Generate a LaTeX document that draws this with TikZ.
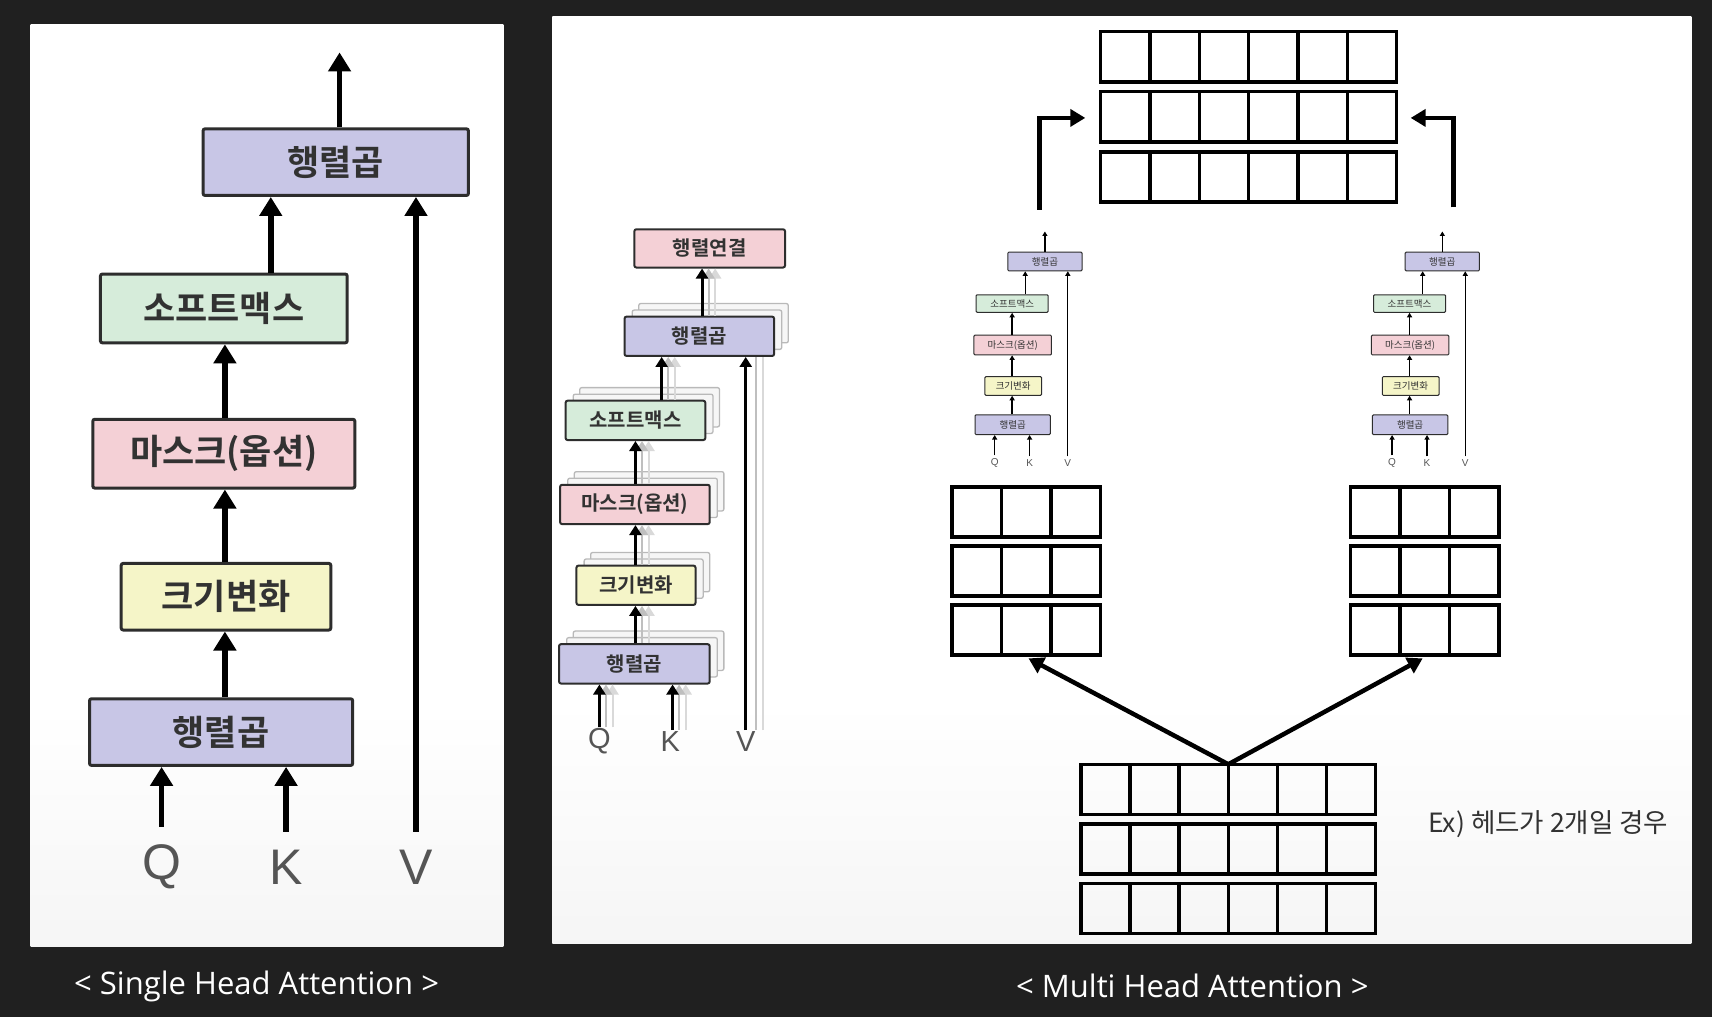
\documentclass[tikz,border=0pt]{standalone}
\usepackage{fontspec}
\setmainfont{Open Sans}
\newfontfamily\kr{Noto Sans CJK KR}[BoldFont = {Noto Sans CJK KR Bold}]
\newfontfamily\lat{Liberation Sans}
\usetikzlibrary{arrows.meta}
\definecolor{bg}{RGB}{32,32,32}
\definecolor{mm}{RGB}{200,198,230}
\definecolor{soft}{RGB}{214,236,218}
\definecolor{msk}{RGB}{244,208,214}
\definecolor{scl}{RGB}{245,245,200}
\definecolor{ink}{RGB}{45,45,45}
\definecolor{txt}{RGB}{50,50,50}
\definecolor{qkv}{RGB}{85,85,85}
\pgfdeclareverticalshading{panel}{100bp}{color(0bp)=(gray!22); color(38bp)=(white); color(100bp)=(white)}

\begin{document}
\begin{tikzpicture}[x = 1.0918pt, y = -1.0918pt,
    wh/.style 2 args = { minimum width = #1*1.0918pt, minimum height = #2*1.0918pt },
    box/.style = { draw = ink, rounded corners = 2pt, inner sep = 0pt, text = txt },
    big/.style = { box, line width = 3pt, font = \kr\bfseries\fontsize{35}{35}\selectfont },
    mid/.style = { box, line width = 2pt, font = \kr\bfseries\fontsize{20}{20}\selectfont },
    tiny/.style = { box, line width = 1pt, rounded corners = 1pt, font = \kr\fontsize{9.5}{9.5}\selectfont },
    ghost/.style = { draw = gray!55, fill = white!93!gray, line width = 1.3pt, rounded corners = 2pt, inner sep = 0pt },
    qkvL/.style = { inner sep = 1pt, text = qkv, font = \lat\fontsize{50}{50}\selectfont },
    qkvM/.style = { inner sep = 1pt, text = qkv, font = \lat\fontsize{29}{29}\selectfont },
    qkvS/.style = { inner sep = 1pt, text = qkv, font = \lat\fontsize{10}{10}\selectfont },
    bigarr/.style = { line width = 5.5pt, -{Triangle[length = 19pt, width = 22pt]} },
    midarr/.style = { line width = 3pt, -{Triangle[length = 10pt, width = 12pt]} },
    gharr/.style = { midarr, draw = gray!50, line width = 2pt },
    tinyarr/.style = { line width = 1.3pt, -{Triangle[length = 4.5pt, width = 5pt]} },
    matarr/.style = { line width = 4.5pt, -{Triangle[length = 15pt, width = 17pt]} },
    cell/.style = { draw = black, line width = 3.5pt }
  ]
  % background and panels
  \fill[bg] (0,0) rectangle (1568,931);
  \shade[shading = panel] (28,22) rectangle (461,867);
  \shade[shading = panel] (506,15) rectangle (1549,864);

  \node[text = white, font = \fontsize{31}{31}\selectfont] (capS) at (235,903) {< Single Head Attention >};
  \node[text = white, font = \fontsize{31}{31}\selectfont] (capM) at (1092,903) {< Multi Head Attention >};

  % single head
  \node[big, fill = mm, wh = {243}{61}] (Lmm2) at (307.5,148.5) {행렬곱};
  \node[big, fill = soft, wh = {226}{63}] (Lsm) at (205,282.5) {소프트맥스};
  \node[big, fill = msk, wh = {240}{63}] (Lmask) at (205,415.5) {마스크(옵션)};
  \node[big, fill = scl, wh = {192}{61}] (Lsc) at (207,546.5) {크기변화};
  \node[big, fill = mm, wh = {241}{61}] (Lmm1) at (202.5,670.5) {행렬곱};
  \node[qkvL] (Lq) at (148,794) {Q};
  \node[qkvL] (Lk) at (262,794) {K};
  \node[qkvL] (Lv) at (381,794) {V};
  \coordinate (Lout) at (311,48);

  \draw[bigarr] (Lmm2.north -| 311,0) -- (Lout);
  \draw[bigarr] (Lsm.north -| 248,0) -- (Lmm2.south -| 248,0);
  \draw[bigarr] (Lmask.north -| 206,0) -- (Lsm.south -| 206,0);
  \draw[bigarr] (Lsc.north -| 206,0) -- (Lmask.south -| 206,0);
  \draw[bigarr] (Lmm1.north -| 206,0) -- (Lsc.south -| 206,0);
  \draw[bigarr, shorten <= 17pt] (Lq.north) -- (Lq |- Lmm1.south);
  \draw[bigarr, shorten <= 17pt] (Lk.north) -- (Lk |- Lmm1.south);
  \draw[bigarr, shorten <= 17pt] (Lv.north) -- (Lv |- Lmm2.south);

  % multi head, stacked view
  \foreach \nm/\x/\y/\w/\h in {Mmm2/640.5/308/137/36, Msm/582/385/128/36, Mmask/581.5/462/137/36, Msc/582.5/536/109/36, Mmm1/581/608/138/36}
  {
    \node[ghost, wh = {\w}{\h}] (\nm-g2) at (\x+13,\y-12) {};
    \node[ghost, wh = {\w}{\h}] (\nm-g1) at (\x+7,\y-6) {};
  }
  \node[mid, fill = msk, wh = {138}{35}] (Mcat) at (650,227.5) {행렬연결};
  \node[mid, fill = mm, wh = {137}{36}] (Mmm2) at (640.5,308) {행렬곱};
  \node[mid, fill = soft, wh = {128}{36}] (Msm) at (582,385) {소프트맥스};
  \node[mid, fill = msk, wh = {137}{36}] (Mmask) at (581.5,462) {마스크(옵션)};
  \node[mid, fill = scl, wh = {109}{36}] (Msc) at (582.5,536) {크기변화};
  \node[mid, fill = mm, wh = {138}{36}] (Mmm1) at (581,608) {행렬곱};
  \node[qkvM] (Mq) at (549,679) {Q};
  \node[qkvM] (Mk) at (614,679) {K};
  \node[qkvM] (Mv) at (683,679) {V};

  \foreach \a/\b/\x in {Mmm2/Mcat/643, Msm/Mmm2/606, Mmask/Msm/582, Msc/Mmask/582, Mmm1/Msc/582, Mq/Mmm1/549, Mk/Mmm1/616}
  {
    \pgfmathsetmacro\xa{\x+6}
    \pgfmathsetmacro\xb{\x+12}
    \draw[gharr, draw = gray!30] (\a.north -| \xb,0) -- (\b.south -| \xb,0);
    \draw[gharr] (\a.north -| \xa,0) -- (\b.south -| \xa,0);
    \draw[midarr] (\a.north -| \x,0) -- (\b.south -| \x,0);
  }
  \draw[gharr, draw = gray!30, -] (Mv.north -| 699,0) -- (Mmm2.south -| 699,0);
  \draw[gharr, -] (Mv.north -| 692,0) -- (Mmm2.south -| 692,0);
  \draw[midarr] (Mv.north) -- (Mv |- Mmm2.south);

  % two small heads
  \foreach \s/\n in {0/A, 364/B}
  {
    \begin{scope}[xshift = \s*1.0918pt]
      \node[tiny, fill = mm, wh = {68}{17}] (S\n-mm2) at (957,239.5) {행렬곱};
      \node[tiny, fill = soft, wh = {66}{16}] (S\n-sm) at (927,278) {소프트맥스};
      \node[tiny, fill = msk, wh = {71}{18}] (S\n-mask) at (927.5,316) {마스크(옵션)};
      \node[tiny, fill = scl, wh = {52}{17}] (S\n-sc) at (928,353.5) {크기변화};
      \node[tiny, fill = mm, wh = {69}{18}] (S\n-mm1) at (927.5,389) {행렬곱};
      \node[qkvS] (S\n-q) at (911,424) {Q};
      \node[qkvS] (S\n-k) at (943,424) {K};
      \node[qkvS] (S\n-v) at (978,424) {V};
      \coordinate (S\n-out) at (957,212);
      \draw[tinyarr] (S\n-mm2.north -| 957,0) -- (S\n-out);
      \draw[tinyarr] (S\n-sm.north -| 939,0) -- (S\n-mm2.south -| 939,0);
      \draw[tinyarr] (S\n-mask.north -| 927,0) -- (S\n-sm.south -| 927,0);
      \draw[tinyarr] (S\n-sc.north -| 927,0) -- (S\n-mask.south -| 927,0);
      \draw[tinyarr] (S\n-mm1.north -| 927,0) -- (S\n-sc.south -| 927,0);
      \draw[tinyarr, shorten <= 2pt] (S\n-q.north) -- (S\n-q |- S\n-mm1.south);
      \draw[tinyarr, shorten <= 2pt] (S\n-k.north) -- (S\n-k |- S\n-mm1.south);
      \draw[tinyarr, shorten <= 2pt] (S\n-v.north) -- (S\n-v |- S\n-mm2.south);
    \end{scope}
  }

  % matrices
  \foreach \r in {0,1,2}
    \foreach \c in {0,...,5}
      \draw[cell] (1008+\c*45.2,29+\r*55) rectangle ++(45.2,46);
  \foreach \r in {0,1,2}
    \foreach \c in {0,...,5}
      \draw[cell] (990+\c*45,700+\r*54.5) rectangle ++(45,46);
  \foreach \x in {872,1237}
    \foreach \r in {0,1,2}
      \foreach \c in {0,1,2}
        \draw[cell] (\x+\c*45.3,446+\r*54) rectangle ++(45.3,46);

  \coordinate (inTop) at (1125,700);
  \coordinate (hAbot) at (942,603);
  \coordinate (hBbot) at (1303,603);
  \coordinate (hAout) at (952,192);
  \coordinate (hBout) at (1331,190);
  \coordinate (catL) at (994,108);
  \coordinate (catR) at (1292,108);
  \draw[matarr] (inTop) -- (hAbot);
  \draw[matarr] (inTop) -- (hBbot);
  \draw[matarr] (hAout) |- (catL);
  \draw[matarr] (hBout) |- (catR);

  \node[text = txt, font = \kr\fontsize{26.5}{26.5}\selectfont] (ex) at (1418,755) {Ex) 헤드가 2개일 경우};
\end{tikzpicture}
\end{document}
